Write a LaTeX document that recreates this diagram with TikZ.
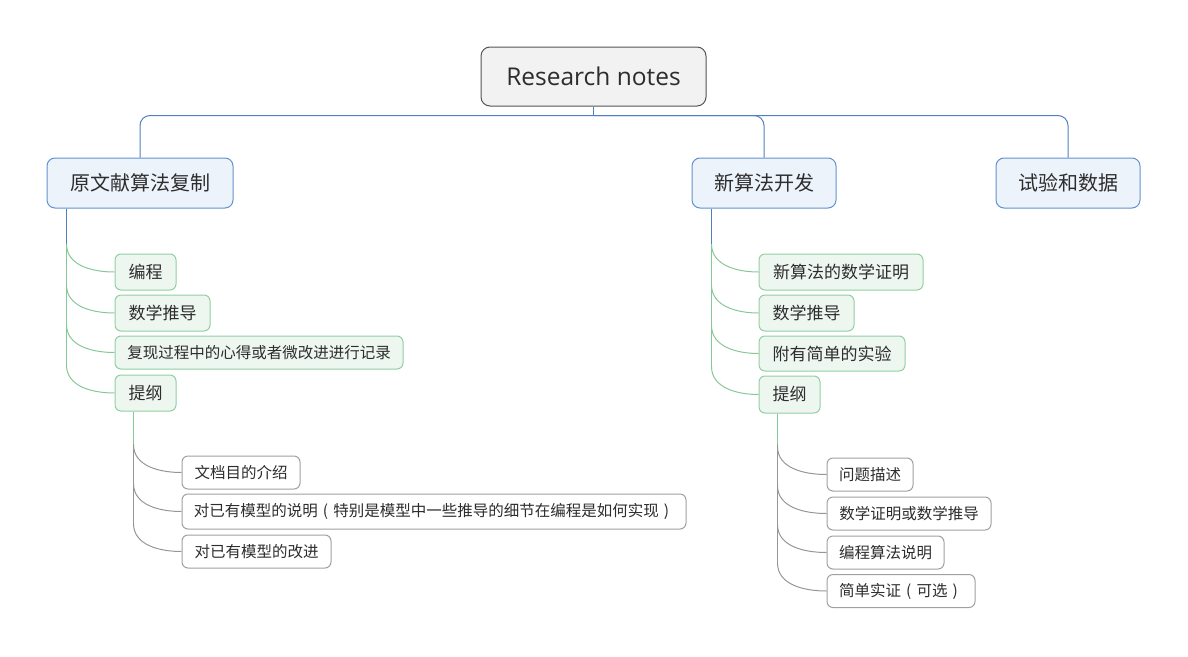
\documentclass[tikz,border=0pt]{standalone}
\usepackage{fontspec}
\setmainfont{Noto Sans CJK SC}
\newfontfamily\latinfont{Open Sans}
\newcommand{\lpar}{\makebox[1em][c]{(}}
\newcommand{\rpar}{\makebox[1em][c]{)}}
\usetikzlibrary{calc}
\definecolor{txt}{RGB}{45,45,45}
\definecolor{rootfill}{RGB}{242,242,242}
\definecolor{rootdraw}{RGB}{85,85,85}
\definecolor{bluefill}{RGB}{237,243,251}
\definecolor{bluedraw}{RGB}{98,146,205}
\definecolor{blueline}{RGB}{80,128,190}
\definecolor{greenfill}{RGB}{238,246,240}
\definecolor{greendraw}{RGB}{145,207,163}
\definecolor{greenline}{RGB}{135,200,152}
\definecolor{graydraw}{RGB}{160,160,160}
\definecolor{grayline}{RGB}{150,150,150}
\tikzset{
  base/.style={inner sep=0pt, align=center, text=txt, line width=1pt},
  rootbox/.style={base, fill=rootfill, draw=rootdraw, rounded corners=9pt, font=\latinfont\fontsize{24.5}{28}\selectfont},
  topicbox/.style={base, fill=bluefill, draw=bluedraw, rounded corners=8pt, font=\fontsize{20}{24}\selectfont},
  subbox/.style={base, fill=greenfill, draw=greendraw, rounded corners=6pt, font=\fontsize{17}{20}\selectfont},
  smallsub/.style={subbox, font=\fontsize{15.5}{18}\selectfont},
  leafbox/.style={base, fill=white, draw=graydraw, rounded corners=6pt, font=\fontsize{15.5}{18}\selectfont},
  cb/.style={draw=blueline, line width=1pt},
  cg/.style={draw=greenline, line width=1pt},
  cy/.style={draw=grayline, line width=1pt},
}
\begin{document}
\begin{tikzpicture}[x=1pt,y=-1pt]
\useasboundingbox (0,0) rectangle (1188,656);

% root and topics
\node[rootbox, minimum width=225pt, minimum height=59pt] (root) at (593.5,76.5) {Research notes};
\node[topicbox, minimum width=186pt, minimum height=50pt] (n1) at (140,183) {原文献算法复制};
\node[topicbox, minimum width=144pt, minimum height=50pt] (n2) at (764,183) {新算法开发};
\node[topicbox, minimum width=144pt, minimum height=50pt] (n3) at (1068,183) {试验和数据};

% left subtopics
\node[subbox, minimum width=61pt, minimum height=36pt] (a) at (145.5,272) {编程};
\node[subbox, minimum width=95pt, minimum height=36pt] (b) at (162.5,313) {数学推导};
\node[smallsub, minimum width=288pt, minimum height=33pt] (c) at (259,352.5) {复现过程中的心得或者微改进进行记录};
\node[subbox, minimum width=61pt, minimum height=36pt] (d) at (145.5,393) {提纲};

% left leaves
\node[leafbox, minimum width=118pt, minimum height=33pt] (e) at (241,472.5) {文档目的介绍};
\node[leafbox, minimum width=504pt, minimum height=35pt] (f) at (434,511.5) {对已有模型的说明\lpar 特别是模型中一些推导的细节在编程是如何实现\rpar};
\node[leafbox, minimum width=149pt, minimum height=33pt] (g) at (256.5,551.5) {对已有模型的改进};

% right subtopics
\node[subbox, minimum width=164pt, minimum height=36pt] (h) at (841,272) {新算法的数学证明};
\node[subbox, minimum width=95pt, minimum height=36pt] (i) at (806.5,313) {数学推导};
\node[subbox, minimum width=146pt, minimum height=35pt] (j) at (832,353.5) {附有简单的实验};
\node[subbox, minimum width=61pt, minimum height=37pt] (k) at (789.5,394.5) {提纲};

% right leaves
\node[leafbox, minimum width=86pt, minimum height=33pt] (l) at (870,474.5) {问题描述};
\node[leafbox, minimum width=164pt, minimum height=33pt] (m) at (909,513.5) {数学证明或数学推导};
\node[leafbox, minimum width=117pt, minimum height=33pt] (n) at (885.5,552.5) {编程算法说明};
\node[leafbox, minimum width=148pt, minimum height=33pt] (o) at (901,591) {简单实证\lpar 可选\rpar};

% root connectors
\coordinate (bus) at ($(root.south)+(0,9)$);
\draw[cb] (root.south) -- (bus);
\draw[cb, rounded corners=10pt] (bus) -| (n1.north);
\draw[cb, rounded corners=10pt] (bus) -| (n2.north);
\draw[cb, rounded corners=10pt] (bus) -| (n3.north);

% left topic -> subtopics
\coordinate (v1) at ($(n1.south west)+(20,0)$);
\draw[cg] (v1) -- ($(v1 |- d.west)+(0,-28)$);
\foreach \t in {a,b,c,d}
  \draw[cg] ($(v1 |- \t.west)+(0,-28)$) to[out=-90,in=180] (\t.west);
\draw[cb] (v1) -- ++(0,35);

% left outline -> leaves
\coordinate (v2) at ($(d.south west)+(19,0)$);
\draw[cy] ($(v2)+(0,32)$) -- ($(v2 |- g.west)+(0,-28)$);
\foreach \t in {e,f,g}
  \draw[cy] ($(v2 |- \t.west)+(0,-28)$) to[out=-90,in=180] (\t.west);
\draw[cg] (v2) -- ++(0,32);

% right topic -> subtopics
\coordinate (v3) at ($(n2.south west)+(20,0)$);
\draw[cg] (v3) -- ($(v3 |- k.west)+(0,-28)$);
\foreach \t in {h,i,j,k}
  \draw[cg] ($(v3 |- \t.west)+(0,-28)$) to[out=-90,in=180] (\t.west);
\draw[cb] (v3) -- ++(0,35);

% right outline -> leaves
\coordinate (v4) at ($(k.south west)+(19,0)$);
\draw[cy] ($(v4)+(0,30)$) -- ($(v4 |- o.west)+(0,-28)$);
\foreach \t in {l,m,n,o}
  \draw[cy] ($(v4 |- \t.west)+(0,-28)$) to[out=-90,in=180] (\t.west);
\draw[cg] (v4) -- ++(0,30);
\end{tikzpicture}
\end{document}
